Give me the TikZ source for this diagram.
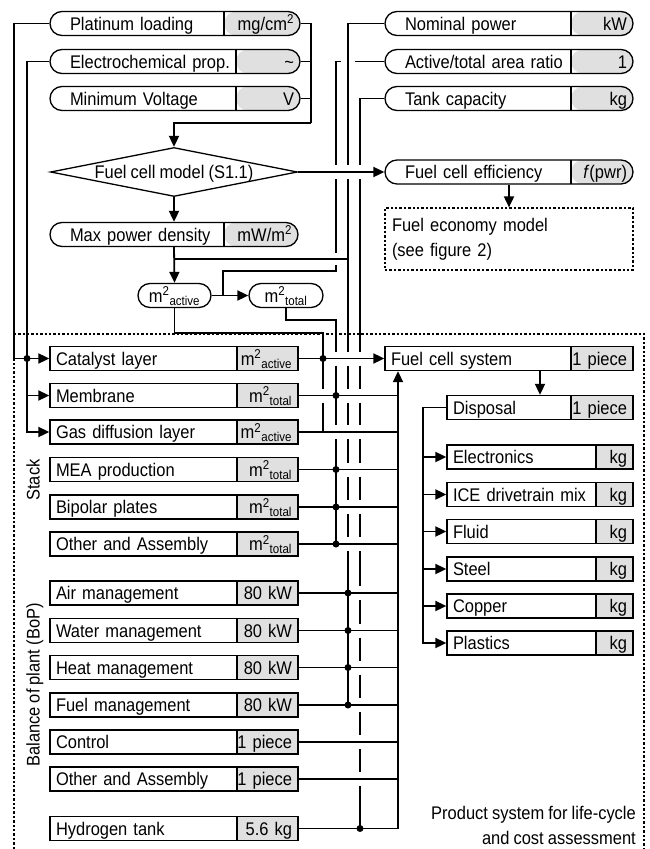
\documentclass[tikz,border=0pt]{standalone}
\usepackage{fontspec}
\setmainfont{Liberation Sans}[FakeStretch=0.9, WordSpace=0.9]
\usepackage{tikz}
\usetikzlibrary{arrows.meta, shapes.geometric}
\definecolor{cellgrey}{RGB}{224,224,224}
\newcommand{\push}{\hskip 0pt plus 1filll\relax}
\newcommand{\mact}{m\textsuperscript{2}\textsubscript{active}}
\newcommand{\mtot}{m\textsuperscript{2}\textsubscript{total}}

\tikzset{
  conn/.style={line width=1.8pt},
  arr/.style={conn, -{Triangle[length=11pt,width=10pt]}},
  box/.style={draw, fill=white, line width=1.3pt, minimum height=24pt,
    inner xsep=6pt, inner ysep=0pt, text height=13pt, text depth=0pt,
    text width=#1, align=left},
  rbox/.style={box=#1, rounded corners=12pt},
  cell/.style={path picture={
    \fill[cellgrey] ([xshift=-#1]path picture bounding box.north east)
      rectangle (path picture bounding box.south east);
    \draw[line width=1.3pt] ([xshift=-#1]path picture bounding box.north east)
      -- ([xshift=-#1]path picture bounding box.south east);}},
  tag/.style={draw, fill=white, line width=1.3pt, rounded corners=12pt,
    minimum height=24pt, minimum width=#1, inner sep=0pt,
    text height=13pt, text depth=0pt},
  diam/.style={draw, fill=white, diamond, aspect=5, line width=1.3pt,
    inner sep=0pt, minimum width=247pt, minimum height=49pt,
    text height=13pt, text depth=0pt},
  frame/.style={line width=1.2pt, dash pattern=on 2.4pt off 2pt},
  lbl/.style={inner sep=0pt, text height=13pt, text depth=0pt},
  dot/.style={fill=black},
}

\begin{document}
\begin{tikzpicture}[x=1pt, y=-1pt, font=\fontsize{18.3}{22}\selectfont]
  \useasboundingbox (0,0) rectangle (649,849);

  % 输入参数
  \node[rbox=238pt, cell=76pt] (plat) at (175,23.5) {\hspace*{14pt}Platinum loading\push mg/cm\textsuperscript{2}};
  \node[rbox=238pt, cell=64pt] (elec) at (175,61.5) {\hspace*{14pt}Electrochemical prop.\push\textasciitilde};
  \node[rbox=238pt, cell=64pt] (minv) at (175,98.5) {\hspace*{14pt}Minimum Voltage\push V};
  \node[rbox=236pt, cell=62pt] (nom) at (509,23.5) {\hspace*{14pt}Nominal power\push kW};
  \node[rbox=236pt, cell=62pt] (ratio) at (509,61.5) {\hspace*{14pt}Active/total area ratio\push 1};
  \node[rbox=236pt, cell=62pt] (tank) at (509,98.5) {\hspace*{14pt}Tank capacity\push kg};

  % 模型
  \node[diam] (model) at (174,172) {Fuel cell model (S1.1)};
  \node[rbox=236pt, cell=62pt] (eff) at (509,172) {\hspace*{14pt}Fuel cell efficiency\push\textit{f}(pwr)};
  \node[draw, frame, minimum width=248pt, minimum height=62pt, inner xsep=7pt,
    text width=234pt, align=left, font=\fontsize{18.3}{25}\selectfont] (fem) at (509,239) {Fuel economy model\\(see figure 2)};
  \node[rbox=236pt, cell=74pt] (mpd) at (174,234.5) {\hspace*{14pt}Max power density\push mW/m\textsuperscript{2}};
  \node[tag=73pt] (ma) at (174.5,295.5) {\mact};
  \node[tag=74pt] (mt) at (286,295.5) {\mtot};

  % 产品系统
  \draw[frame] (14,849) |- (644,334) -- (644,849);
  \node[box=236pt, cell=62pt] (fcs) at (509,358.5) {Fuel cell system\push 1 piece};
  \node[box=174pt, cell=62pt] (disp) at (540,407.5) {Disposal\push 1 piece};
  \node[box=174pt, cell=37pt] (elx) at (540,457) {Electronics\push kg};
  \node[box=174pt, cell=37pt] (ice) at (540,494.5) {ICE drivetrain mix\push kg};
  \node[box=174pt, cell=37pt] (fld) at (540,531.5) {Fluid\push kg};
  \node[box=174pt, cell=37pt] (stl) at (540,569) {Steel\push kg};
  \node[box=174pt, cell=37pt] (cu) at (540,606) {Copper\push kg};
  \node[box=174pt, cell=37pt] (pla) at (540,643) {Plastics\push kg};

  % 电堆
  \node[box=236pt, cell=61pt] (cat) at (174,358.5) {Catalyst layer\push\mact};
  \node[box=236pt, cell=61pt] (mem) at (174,395.5) {Membrane\push\mtot};
  \node[box=236pt, cell=61pt] (gdl) at (174,432) {Gas diffusion layer\push\mact};
  \node[box=236pt, cell=61pt] (mea) at (174,469.5) {MEA production\push\mtot};
  \node[box=236pt, cell=61pt] (bip) at (174,507) {Bipolar plates\push\mtot};
  \node[box=236pt, cell=61pt] (oth) at (174,544) {Other and Assembly\push\mtot};

  % 辅助系统
  \node[box=236pt, cell=61pt] (air) at (174,593) {Air management\push 80 kW};
  \node[box=236pt, cell=61pt] (wat) at (174,630.5) {Water management\push 80 kW};
  \node[box=236pt, cell=61pt] (heat) at (174,667.5) {Heat management\push 80 kW};
  \node[box=236pt, cell=61pt] (fuel) at (174,705) {Fuel management\push 80 kW};
  \node[box=236pt, cell=61pt] (ctrl) at (174,742) {Control\push 1 piece};
  \node[box=236pt, cell=61pt] (obop) at (174,779) {Other and Assembly\push 1 piece};
  \node[box=236pt, cell=61pt] (h2) at (174,828.5) {Hydrogen tank\push 5.6 kg};

  \node[lbl, rotate=90] (stk) at (33,480) {Stack};
  \node[lbl, rotate=90] (bop) at (33,685) {Balance of plant (BoP)};
  \node[inner sep=0pt, anchor=east, align=right, font=\fontsize{18.3}{25}\selectfont] (psys) at (636,825) {Product system for life-cycle\\and cost assessment};

  % 汇流线
  \coordinate (lA) at (14,0);
  \coordinate (lB) at (27,0);
  \coordinate (jn) at (311,123);
  \coordinate (jp) at (174,259);
  \coordinate (jr) at (336,271);
  \coordinate (ja) at (223,271);
  \coordinate (jd) at (336,320);
  \coordinate (jc) at (323,333);
  \coordinate (vN) at (348,0);
  \coordinate (vT) at (360,0);
  \coordinate (vS) at (398,0);
  \coordinate (vD) at (423,0);

  % 左侧输入
  \draw[arr] (plat.west) -- (plat.west -| lA) |- (cat.west);
  \draw[arr] (elec.west) -- (elec.west -| lB) |- (gdl.west);
  \draw[arr] (mem.west -| lB) -- (mem.west);
  \fill[dot] (cat.west -| lB) circle[radius=3.5pt];

  % 模型输入输出
  \draw[conn] (plat.east) -| (jn);
  \draw[conn] (elec.east) -- (elec.east -| jn);
  \draw[conn] (minv.east) -- (minv.east -| jn);
  \draw[arr] (jn) -| (model.north);
  \draw[arr] (model.east) -- (eff.west);
  \draw[arr] (eff.south) -- (fem.north);
  \draw[arr] (model.south) -- (mpd.north);
  \draw[arr] (mpd.south) -- (ma.north);
  \draw[conn] (jp) -- (jp -| vN);
  \draw[arr] (ma.east) -- (mt.west);

  % 面积比
  \draw[conn] (ratio.west) -- ([xshift=7pt]ratio.west -| vN) ([xshift=-7pt]ratio.west -| vN)
    -- (ratio.west -| jr) -- ([yshift=7pt]model.east -| jr) ([yshift=-7pt]model.east -| jr)
    -- ([yshift=6pt]jp -| jr) ([yshift=-6pt]jp -| jr) -- (jr) -- (ja) -- (ja |- ma.east);

  % 额定功率
  \draw[conn] (nom.west) -- (nom.west -| vN)
    foreach \rw in {model,cat,mem,gdl,mea,bip,oth} {
      -- ([yshift=7pt]\rw.east -| vN) ([yshift=-7pt]\rw.east -| vN) }
    -- (fuel.east -| vN);
  \foreach \rw in {air,wat,heat,fuel} \fill[dot] (\rw.east -| vN) circle[radius=3.5pt];

  % 储罐容量
  \draw[conn] (tank.west) -- (tank.west -| vT)
    foreach \rw in {model,cat,mem,gdl,mea,bip,oth,air,wat,heat,fuel,ctrl,obop} {
      -- ([yshift=7pt]\rw.east -| vT) ([yshift=-7pt]\rw.east -| vT) }
    -- (h2.east -| vT);
  \fill[dot] (h2.east -| vT) circle[radius=3.5pt];

  % 面积
  \draw[conn] (mt.south) |- (jd) -- ([yshift=7pt]cat.east -| jd) ([yshift=-7pt]cat.east -| jd)
    -- ([yshift=7pt]gdl.east -| jd) ([yshift=-7pt]gdl.east -| jd) -- (oth.east -| jd);
  \foreach \rw in {mem,mea,bip,oth} \fill[dot] (\rw.east -| jd) circle[radius=3.5pt];
  \draw[conn] (ma.south) |- (jc) -- ([yshift=7pt]mem.east -| jc) ([yshift=-7pt]mem.east -| jc)
    -- (gdl.east -| jc);
  \fill[dot] (cat.east -| jc) circle[radius=3.5pt];

  % 系统汇总
  \draw[arr] (cat.east) -- (fcs.west);
  \foreach \rw in {mem,gdl,mea,bip,oth,air,wat,heat,fuel,ctrl,obop}
    \draw[conn] (\rw.east) -- (\rw.east -| vS);
  \draw[arr] (h2.east) -| (fcs.south -| vS);

  % 回收
  \draw[arr] (fcs.south -| disp.north) -- (disp.north);
  \draw[arr] (disp.west) -- (disp.west -| vD) |- (pla.west);
  \foreach \rw in {elx,ice,fld,stl,cu} \draw[arr] (\rw.west -| vD) -- (\rw.west);
\end{tikzpicture}
\end{document}
